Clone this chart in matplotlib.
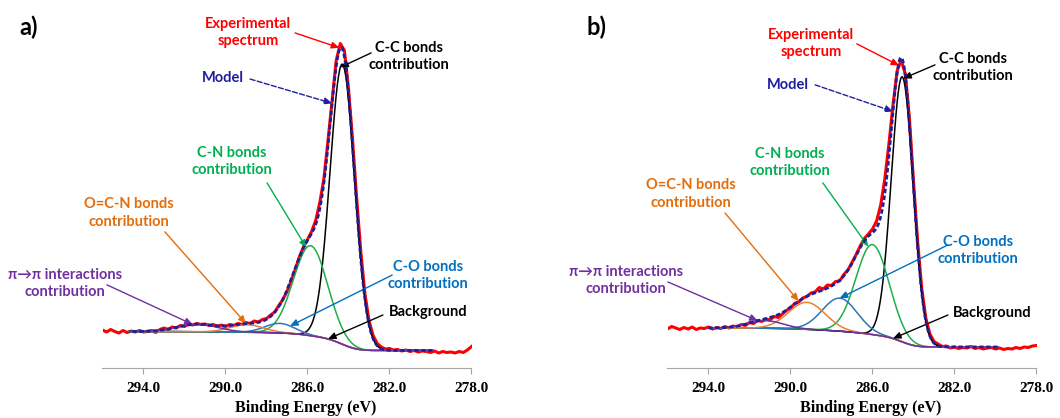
import numpy as np
import matplotlib
matplotlib.use('Agg')
import matplotlib.pyplot as plt

# binding energy of the measured points (eV), 0.2 eV steps from 296 to 278
energy = np.round(np.arange(296.0, 277.9, -0.2), 1)

# experimental spectra (a.u., 0 = high-energy baseline), one row per eV
exp_a = [20.5, 18.5, 21.0, 19.0, 17.5,
         20.0, 18.0, 19.5, 18.5, 20.0,
         18.5, 19.0, 20.0, 18.0, 21.0,
         22.5, 21.0, 23.5, 22.5, 25.0,
         24.0, 26.5, 25.5, 27.0, 26.0,
         26.5, 25.0, 26.0, 24.0, 25.5,
         24.0, 26.0, 25.0, 27.0, 26.0,
         28.0, 27.0, 29.5, 28.5, 31.0,
         32.0, 35.5, 38.5, 45.0, 51.0,
         59.0, 69.5, 81.0, 93.5, 103.5,
         111.0, 119.0, 130.0, 148.0, 172.0,
         210.0, 250.0, 290.0, 307.0, 300.0,
         262.0, 210.0, 152.0, 99.0, 57.0,
         30.0, 15.0, 7.0, 3.5, 1.5,
         2.0, 0.5, 1.0, -0.5, 0.5,
         -1.0, 0.0, -1.5, -0.5, -1.0,
         -2.0, -0.5, -2.5, -1.0, -2.0,
         -1.5, -2.5, -1.0, -2.0, 0.5,
         4.0]
exp_b = [18.0, 20.5, 19.0, 17.5, 19.5,
         18.0, 20.0, 17.5, 19.0, 18.5,
         20.0, 18.0, 19.5, 18.5, 20.5,
         19.0, 21.0, 20.0, 22.5, 21.5,
         24.5, 23.5, 26.5, 25.5, 28.0,
         27.0, 30.5, 29.5, 33.0, 36.5,
         39.0, 43.5, 45.0, 49.0, 50.5,
         54.0, 55.0, 59.5, 58.0, 62.0,
         61.5, 65.5, 66.0, 72.5, 77.0,
         84.5, 92.5, 101.0, 108.5, 113.0,
         118.0, 126.0, 142.0, 168.0, 203.0,
         242.0, 276.0, 287.0, 273.0, 229.0,
         166.0, 106.0, 59.0, 29.0, 13.0,
         5.5, 3.0, 0.5, 1.0, -1.0,
         0.0, -1.5, -0.5, -1.0, 0.5,
         -1.5, -0.5, -2.0, -1.0, -0.5,
         -2.0, -1.0, -2.5, -1.5, -2.0,
         -0.5, -1.5, 0.0, -0.5, 1.0,
         1.5]

# fitted components, order: C-C, C-N, C-O, O=C-N, pi->pi
centers_a = [284.3, 285.85, 287.35, 288.95, 291.35]
fwhm_a = [1.4, 1.95, 1.7, 1.9, 2.3]
heights_a = [280, 90, 9.5, 7.5, 7.5]
centers_b = [284.55, 286.0, 287.6, 289.2, 291.2]
fwhm_b = [1.25, 1.9, 2.0, 2.1, 2.0]
heights_b = [265, 90, 33, 27, 7.5]
bg_step_a = 19
bg_step_b = 19
fit_range_a = (279.9, 294.7)
fit_range_b = (279.9, 294.0)

ticks = [294, 290, 286, 282, 278]
tick_labels = ['294.0', '290.0', '286.0', '282.0', '278.0']

comp_colors = ['#000000', '#1fae4b', '#2e75b6', '#ed7d31', '#7030a0']
navy = '#1f1f9e'
txt_font = ['Lato', 'DejaVu Serif']
num_font = 'Liberation Serif'


def gauss(x, c, w, h):
    return h * np.exp(-4 * np.log(2) * (x - c) ** 2 / w ** 2)


def fit_curves(centers, fwhm, heights, step, fit_range):
    x = np.linspace(fit_range[0], fit_range[1], 900)
    peaks = [gauss(x, c, w, h) for c, w, h in zip(centers, fwhm, heights)]
    total = np.sum(peaks, axis=0)
    cum = np.cumsum(total)
    bg = step * cum / cum[-1]  # Shirley-type background
    return x, peaks, bg, total + bg


# (label, colour, text pos, arrow tail, tip energy, curve, linestyle) in axes fraction
notes_a = [
    ('Experimental\nspectrum', '#ff0000', (0.394, 0.924), (0.522, 0.923), 284.45, 'exp', '-'),
    ('Model', navy, (0.327, 0.799), (0.40, 0.796), 284.8, 'model', '--'),
    ('C-C bonds\ncontribution', '#000000', (0.831, 0.858), (0.728, 0.868), 284.4, 0, '-'),
    ('C-N bonds\ncontribution', '#00b050', (0.351, 0.569), (0.446, 0.510), 286.05, 1, '-'),
    ('O=C-N bonds\ncontribution', '#e46c0a', (0.072, 0.427), (0.169, 0.375), 289.0, 'model', '-'),
    ('π→π interactions\ncontribution', '#7030a0', (-0.102, 0.233), (0.012, 0.229), 291.6, 4, '-'),
    ('C-O bonds\ncontribution', '#0070c0', (0.882, 0.255), (0.785, 0.256), 286.85, 2, '-'),
    ('Background', '#000000', (0.882, 0.154), (0.760, 0.146), 285.0, 'bg', '-'),
]
notes_b = [
    ('Experimental\nspectrum', '#ff0000', (0.389, 0.894), (0.513, 0.893), 284.7, 'exp', '-'),
    ('Model', navy, (0.327, 0.780), (0.40, 0.780), 285.0, 'model', '--'),
    ('C-C bonds\ncontribution', '#000000', (0.828, 0.828), (0.725, 0.835), 284.5, 0, '-'),
    ('C-N bonds\ncontribution', '#00b050', (0.332, 0.566), (0.421, 0.510), 286.2, 1, '-'),
    ('O=C-N bonds\ncontribution', '#e46c0a', (0.064, 0.479), (0.156, 0.427), 289.6, 'model', '-'),
    ('π→π interactions\ncontribution', '#7030a0', (-0.112, 0.241), (0.001, 0.237), 291.6, 'model', '-'),
    ('C-O bonds\ncontribution', '#0070c0', (0.841, 0.324), (0.760, 0.339), 287.6, 2, '-'),
    ('Background', '#000000', (0.879, 0.152), (0.760, 0.146), 285.0, 'bg', '-'),
]


def draw_panel(ax, exp, centers, fwhm, heights, step, fit_range, ylim, notes):
    ax.plot(energy, exp, color='#ff0000', lw=2.2, zorder=2)
    x, peaks, bg, model = fit_curves(centers, fwhm, heights, step, fit_range)
    ax.plot(x, bg, color='#7030a0', lw=1.1, zorder=3)
    for p, col in zip(peaks, comp_colors):
        ax.plot(x, p + bg, color=col, lw=1.1, zorder=3)
    ax.plot(x, model, color=navy, lw=2.0, ls=(0, (1.6, 0.9)), zorder=4)

    ax.set_xlim(296, 278)
    ax.set_ylim(*ylim)
    ax.set_yticks([])
    for s in ['left', 'right', 'top']:
        ax.spines[s].set_visible(False)
    ax.spines['bottom'].set_color('#a6a6a6')
    ax.set_xticks(ticks)
    ax.set_xticklabels(tick_labels, fontfamily=num_font, fontweight='bold', fontsize=11)
    ax.tick_params(axis='x', direction='out', length=4, color='#a6a6a6', pad=6)
    ax.set_xlabel('Binding Energy (eV)', fontfamily=num_font, fontweight='bold', fontsize=11.5)
    ax.xaxis.set_label_coords(0.55, -0.088)

    curves = {'exp': (energy[::-1], np.asarray(exp)[::-1]), 'model': (x, model), 'bg': (x, bg)}
    for i, p in enumerate(peaks):
        curves[i] = (x, p + bg)
    for label, col, txy, tail, e_tip, key, ls in notes:
        cx, cy = curves[key]
        y_tip = np.interp(e_tip, cx, cy)
        ax.annotate('', xy=(e_tip, y_tip), xycoords='data', xytext=tail,
                    textcoords='axes fraction', annotation_clip=False,
                    arrowprops=dict(arrowstyle='-|>,head_length=0.45,head_width=0.2',
                                    color=col, lw=1.0, ls=ls, shrinkA=0, shrinkB=0))
        ax.text(txy[0], txy[1], label, transform=ax.transAxes, color=col,
                ha='center', va='center', multialignment='center', fontsize=10.5,
                fontweight='bold', family=txt_font, linespacing=1.3)


fig = plt.figure(figsize=(10.6, 4.18), dpi=100)
ax_a = fig.add_axes([102.5 / 1060, 50 / 418, 369 / 1060, 363 / 418])
ax_b = fig.add_axes([667.5 / 1060, 50 / 418, 369 / 1060, 363 / 418])

draw_panel(ax_a, exp_a, centers_a, fwhm_a, heights_a, bg_step_a, fit_range_a, (-17.5, 345.5), notes_a)
draw_panel(ax_b, exp_b, centers_b, fwhm_b, heights_b, bg_step_b, fit_range_b, (-21, 342), notes_b)

fig.text(29 / 1060, 1 - 27 / 418, 'a)', fontsize=17, fontweight='bold', family=txt_font, ha='center', va='center')
fig.text(596 / 1060, 1 - 27 / 418, 'b)', fontsize=17, fontweight='bold', family=txt_font, ha='center', va='center')

fig.savefig('out.png', dpi=100, facecolor='white')
